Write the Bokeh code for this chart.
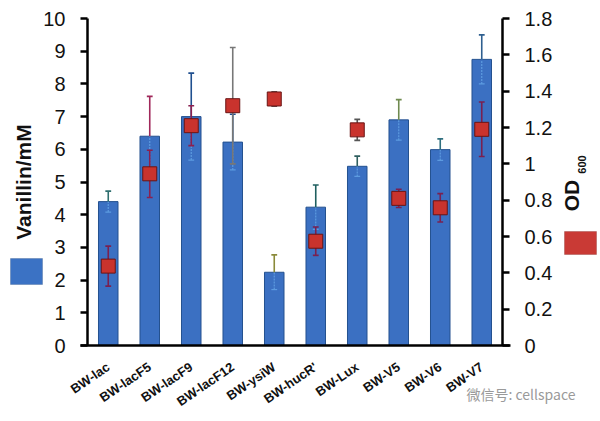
import numpy as np
from math import pi
from bokeh.plotting import figure
from bokeh.models import (Range1d, LinearAxis, FixedTicker, ColumnDataSource,
                          Label, BoxAnnotation, NumeralTickFormatter)
from bokeh.embed import file_html
from bokeh.resources import INLINE

strains = ["BW-lac", "BW-lacF5", "BW-lacF9", "BW-lacF12", "BW-ysiW",
           "BW-hucR'", "BW-Lux", "BW-V5", "BW-V6", "BW-V7"]
vanillin = [4.40, 6.40, 7.00, 6.22, 2.24, 4.23, 5.48, 6.90, 5.99, 8.75]
vanillin_err = [0.32, 1.22, 1.33, 0.85, 0.53, 0.68, 0.31, 0.62, 0.33, 0.75]
od600 = [0.437, 0.945, 1.21, 1.32, 1.357, 0.574, 1.187, 0.81, 0.758, 1.19]
od600_err = [0.11, 0.13, 0.11, 0.32, 0.04, 0.078, 0.058, 0.05, 0.078, 0.15]
vanillin_err_colors = ["#2f6f6f", "#a0285a", "#1f4f8f", "#1f4f8f", "#8a8a3a",
                       "#1f5f5f", "#2f5f5f", "#6f8a4f", "#2f6f7f", "#2f5f8f"]
od_err_colors = ["#7a2050", "#8a2050", "#8a2050", "#777777", "#555555",
                 "#7a2050", "#555555", "#7a2050", "#7a2050", "#7a2050"]
left_ticks = list(range(0, 11))
right_ticks = [0, 0.2, 0.4, 0.6, 0.8, 1.0, 1.2, 1.4, 1.6, 1.8]
left_max = 10
right_max = 1.8

n = len(strains)
xs = np.arange(n) + 0.5
v = np.array(vanillin)
ve = np.array(vanillin_err)
o = np.array(od600)
oe = np.array(od600_err)
cap = 0.07

# layout: whole canvas is the frame; axes are pinned with fixed_location
W, H = 600, 421
ax_left, ax_right, ax_top, ax_bottom = 87, 502, 18, 345   # pixel box of the axes
px_x = (ax_right - ax_left) / n
px_y = (ax_bottom - ax_top) / left_max
x_start = -ax_left / px_x
x_end = n + (W - ax_right) / px_x
y_start = -(H - ax_bottom) / px_y
y_end = left_max + ax_top / px_y
k = right_max / left_max


def dx(px):   # canvas x pixel -> data x
    return x_start + px / px_x


def dy(py):   # canvas y pixel (top-down) -> left data y
    return y_end - py / px_y


src = ColumnDataSource(dict(
    x=xs, v=v, vt=v + ve, vb=v - ve, vcol=vanillin_err_colors,
    o=o, ot=o + oe, ob=o - oe, ocol=od_err_colors,
    xl=xs - cap, xr=xs + cap,
))

p = figure(width=W, height=H, output_backend="svg", toolbar_location=None,
           x_range=Range1d(x_start, x_end), y_range=Range1d(y_start, y_end),
           x_axis_location=None, y_axis_location=None,
           min_border=0, min_border_left=0, min_border_right=0,
           min_border_top=0, min_border_bottom=0)
p.outline_line_color = None
p.grid.visible = False
p.extra_y_ranges = {"od": Range1d(y_start * k, y_end * k)}

# bars
p.vbar(x="x", top="v", bottom=0, width=0.47, source=src,
       fill_color="#3b70c2", line_color="#24518f", line_width=1)

# vanillin error bars
p.segment(x0="x", y0="vb", x1="x", y1="v", source=src, line_color="#5d9be0",
          line_width=1.2, line_dash="2 1")
p.segment(x0="xl", y0="vb", x1="xr", y1="vb", source=src, line_color="#5d9be0",
          line_width=1.2)
p.segment(x0="x", y0="v", x1="x", y1="vt", source=src, line_color="vcol",
          line_width=1.6)
p.segment(x0="xl", y0="vt", x1="xr", y1="vt", source=src, line_color="vcol",
          line_width=1.6)

# OD error bars
p.segment(x0="x", y0="ob", x1="x", y1="ot", source=src, line_color="ocol",
          line_width=1.6, y_range_name="od")
p.segment(x0="xl", y0="ot", x1="xr", y1="ot", source=src, line_color="ocol",
          line_width=1.6, y_range_name="od")
p.segment(x0="xl", y0="ob", x1="xr", y1="ob", source=src, line_color="ocol",
          line_width=1.6, y_range_name="od")

# OD markers
p.scatter(x="x", y="o", source=src, marker="square", size=14,
          fill_color="#c9332d", line_color="#6a1414", line_width=1,
          y_range_name="od")

font = "Liberation Sans"

# x axis
xa = LinearAxis(fixed_location=0, bounds=(-0.17, n + 0.19),
                ticker=FixedTicker(ticks=list(xs)))
xa.major_label_overrides = {float(x): s for x, s in zip(xs, strains)}
xa.major_label_orientation = 0.6
xa.major_label_text_font = font
xa.major_label_text_font_style = "bold"
xa.major_label_text_font_size = "13px"
xa.major_label_text_color = "#111111"
xa.major_tick_line_color = None
xa.minor_tick_line_color = None
xa.axis_line_width = 2.5
xa.axis_line_color = "black"
xa.major_label_standoff = 14
p.add_layout(xa, "below")

# left axis
ya = LinearAxis(fixed_location=0, bounds=(0, left_max),
                ticker=FixedTicker(ticks=left_ticks))
ya.minor_tick_line_color = None
ya.major_tick_in = 0
ya.major_tick_out = 7
ya.major_tick_line_width = 2.5
ya.axis_line_width = 2.5
ya.axis_line_color = "black"
ya.major_label_text_font = font
ya.major_label_text_font_size = "20px"
ya.major_label_text_color = "#111111"
ya.major_label_standoff = 15
ya.axis_label = "Vanillin/mM"
ya.axis_label_text_font = font
ya.axis_label_text_font_style = "bold"
ya.axis_label_text_font_size = "21px"
ya.axis_label_text_color = "#111111"
ya.axis_label_standoff = 5
p.add_layout(ya, "left")

# right axis
ra = LinearAxis(fixed_location=n, y_range_name="od", bounds=(0, right_max),
                ticker=FixedTicker(ticks=right_ticks),
                formatter=NumeralTickFormatter(format="0.[0]"))
ra.minor_tick_line_color = None
ra.major_tick_in = 0
ra.major_tick_out = 7
ra.major_tick_line_width = 2.5
ra.axis_line_width = 2.5
ra.axis_line_color = "black"
ra.major_label_text_font = font
ra.major_label_text_font_size = "20px"
ra.major_label_text_color = "#111111"
ra.major_label_standoff = 15
p.add_layout(ra, "right")

# OD600 title
p.add_layout(Label(x=dx(571), y=dy(195), text="OD",
                   angle=pi / 2, text_align="center", text_baseline="middle",
                   text_font=font, text_font_style="bold", text_font_size="21px",
                   text_color="#111111"))
p.add_layout(Label(x=dx(581), y=dy(164), text="600",
                   angle=pi / 2, text_align="center", text_baseline="middle",
                   text_font=font, text_font_style="bold", text_font_size="11px",
                   text_color="#111111"))

# legend swatches
p.add_layout(BoxAnnotation(left=dx(10), right=dx(42), top=dy(258), bottom=dy(284),
                           fill_color="#3b72c4", fill_alpha=1,
                           line_color="#2a4f80", line_width=1))
p.add_layout(BoxAnnotation(left=dx(564), right=dx(596), top=dy(231), bottom=dy(254),
                           fill_color="#c93a35", fill_alpha=1,
                           line_color="#7a2020", line_width=1))

# watermark
p.add_layout(Label(x=dx(466), y=dy(393),
                   text="微信号: cellspace", text_align="left", text_baseline="middle",
                   text_font="Noto Sans CJK SC", text_font_size="14px",
                   text_color="#9a9a9a"))

open("out.html", "w").write(file_html(p, INLINE))
